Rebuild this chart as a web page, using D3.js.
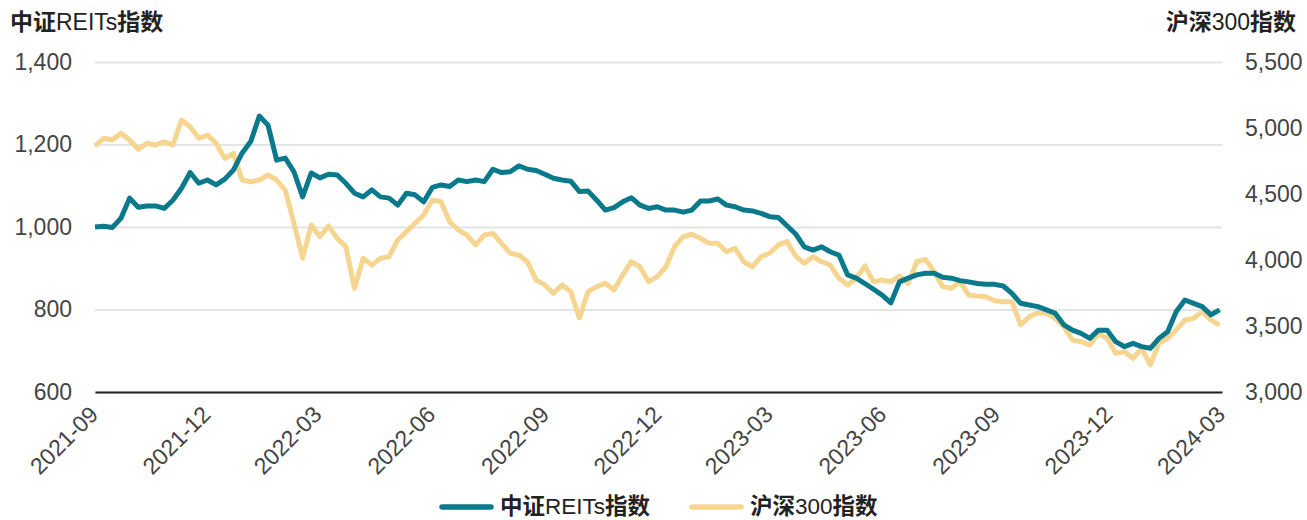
<!DOCTYPE html>
<html lang="zh">
<head>
<meta charset="UTF-8">
<title>中证REITs指数 与 沪深300指数</title>
<script src="https://d3js.org/d3.v7.min.js"></script>
<style>
  body { margin: 0; background: #fff; }
  text { font-family: "Liberation Sans", Arial, "Noto Sans CJK SC", sans-serif; }
</style>
</head>
<body>
<script>

// weekly readings, first one at 2021-09-01
var reitsValues = [1000, 1002, 999, 1021, 1070, 1048, 1051, 1051, 1045, 1065,
    1094, 1132, 1106, 1114, 1102, 1116, 1138, 1179, 1207, 1269,
    1247, 1162, 1167, 1134, 1073, 1131, 1119, 1128, 1126, 1106,
    1082, 1073, 1090, 1073, 1070, 1053, 1082, 1078, 1061, 1096,
    1102, 1098, 1114, 1110, 1114, 1110, 1140, 1132, 1134, 1148,
    1140, 1137, 1128, 1118, 1114, 1111, 1086, 1087, 1065, 1041,
    1047, 1061, 1071, 1053, 1045, 1049, 1041, 1041, 1036, 1041,
    1063, 1063, 1068, 1053, 1049, 1041, 1039, 1033, 1025, 1023,
    1003, 983, 952, 944, 952, 940, 932, 884, 876, 863,
    849, 835, 816, 867, 876, 884, 888, 888, 878, 876,
    870, 867, 863, 861, 861, 857, 839, 815, 811, 807,
    799, 791, 763, 750, 742, 730, 750, 750, 722, 710,
    718, 710, 706, 730, 746, 795, 823, 815, 807, 787,
    799];

var csiValues = [4864, 4922, 4909, 4960, 4909, 4839, 4884, 4871, 4896, 4871,
    5061, 5010, 4922, 4947, 4884, 4770, 4808, 4606, 4593, 4606,
    4644, 4606, 4530, 4278, 4015, 4265, 4177, 4258, 4164, 4101,
    3785, 4013, 3962, 4013, 4025, 4152, 4215, 4278, 4341, 4455,
    4442, 4290, 4227, 4189, 4114, 4189, 4202, 4126, 4051, 4038,
    3985, 3848, 3811, 3748, 3811, 3760, 3561, 3760, 3798, 3823,
    3773, 3886, 3987, 3949, 3836, 3874, 3949, 4101, 4177, 4195,
    4164, 4126, 4126, 4063, 4088, 3987, 3949, 4025, 4051, 4114,
    4139, 4030, 3975, 4025, 3987, 3962, 3861, 3811, 3861, 3955,
    3836, 3848, 3836, 3879, 3823, 3987, 4005, 3912, 3798, 3786,
    3836, 3735, 3727, 3722, 3692, 3684, 3684, 3508, 3570, 3601,
    3596, 3558, 3495, 3394, 3381, 3356, 3445, 3407, 3293, 3306,
    3255, 3331, 3205, 3369, 3407, 3470, 3545, 3558, 3608, 3545,
    3508];

var tickLabels = ['2021-09', '2021-12', '2022-03', '2022-06', '2022-09', '2022-12',
    '2023-03', '2023-06', '2023-09', '2023-12', '2024-03'];
var leftTicks = [600, 800, 1000, 1200, 1400];
var rightTicks = [3000, 3500, 4000, 4500, 5000, 5500];
var seriesNames = ['中证REITs指数', '沪深300指数'];

var weeks = d3.timeDay.range(new Date(2021, 8, 1), new Date(2024, 2, 1), 7);

var w = 1307, h = 520;
var mLeft = 95, mRight = 1222, mTop = 62, mBottom = 392;
var teal = '#0a798b', sand = '#f6d591';

var svg = d3.select('body').append('svg')
    .attr('width', w)
    .attr('height', h)

var parseMonth = d3.timeParse('%Y-%m');

var x = d3.scaleTime()
    .domain([parseMonth(tickLabels[0]), parseMonth(tickLabels[tickLabels.length - 1])])
    .range([mLeft, mRight])
var yL = d3.scaleLinear().domain([600, 1400]).range([mBottom, mTop])
var yR = d3.scaleLinear().domain([3000, 5500]).range([mBottom, mTop])

// mixed text: CJK runs bold, latin runs regular
function rich(sel, str) {
    var runs = str.match(/[\u4e00-\u9fff]+|[^\u4e00-\u9fff]+/g);
    runs.forEach(function (r) {
        var cjk = /[\u4e00-\u9fff]/.test(r);
        sel.append('tspan')
            .attr('font-family', cjk ? '"Noto Sans CJK SC", sans-serif' : '"Liberation Sans", Arial, sans-serif')
            .attr('font-weight', cjk ? 700 : 400)
            .text(r);
    });
}

// left axis + gridlines
var gL = svg.append('g')
    .attr('transform', 'translate(' + mLeft + ',0)')
    .call(d3.axisLeft(yL).tickValues(leftTicks).tickFormat(d3.format(','))
        .tickSizeInner(-(mRight - mLeft)).tickSizeOuter(0).tickPadding(23))
gL.select('.domain').remove()
gL.selectAll('line').attr('stroke', '#e4e4e4').attr('stroke-width', 2)
gL.selectAll('text').attr('font-size', 23).attr('fill', '#444')

var gR = svg.append('g')
    .attr('transform', 'translate(' + mRight + ',0)')
    .call(d3.axisRight(yR).tickValues(rightTicks).tickFormat(d3.format(','))
        .tickSize(0).tickPadding(23))
gR.select('.domain').remove()
gR.selectAll('text').attr('font-size', 23).attr('fill', '#444')

// bottom axis
var gX = svg.append('g')
    .attr('transform', 'translate(0,' + mBottom + ')')
    .call(d3.axisBottom(x).tickValues(tickLabels.map(parseMonth))
        .tickFormat(d3.timeFormat('%Y-%m')).tickSize(0))
gX.select('.domain').attr('stroke', '#222').attr('stroke-width', 2)
gX.selectAll('text')
    .attr('font-size', 23)
    .attr('fill', '#444')
    .attr('text-anchor', 'end')
    .attr('dy', null)
    .attr('y', null)
    .attr('transform', 'translate(4,24) rotate(-45)')

// lines
var lineL = d3.line().x(function (d, i) { return x(weeks[i]); }).y(function (d) { return yL(d); })
var lineR = d3.line().x(function (d, i) { return x(weeks[i]); }).y(function (d) { return yR(d); })

svg.append('path')
    .datum(csiValues)
    .attr('d', lineR)
    .attr('fill', 'none')
    .attr('stroke', sand)
    .attr('stroke-width', 5)
    .attr('stroke-linejoin', 'round')

svg.append('path')
    .datum(reitsValues)
    .attr('d', lineL)
    .attr('fill', 'none')
    .attr('stroke', teal)
    .attr('stroke-width', 5)
    .attr('stroke-linejoin', 'round')

// axis titles
svg.append('text').attr('x', 10).attr('y', 30).attr('font-size', 23).attr('fill', '#222')
    .call(rich, seriesNames[0])
svg.append('text').attr('x', 1296).attr('y', 30).attr('font-size', 23).attr('fill', '#222')
    .attr('text-anchor', 'end')
    .call(rich, seriesNames[1])

// legend
var legend = svg.selectAll('.legend')
    .data([{ name: seriesNames[0], color: teal, x: 440 }, { name: seriesNames[1], color: sand, x: 690 }])
    .enter().append('g')
    .attr('class', 'legend')
    .attr('transform', function (d) { return 'translate(' + d.x + ',507)'; })
legend.append('line')
    .attr('x1', 2).attr('x2', 51)
    .attr('stroke', function (d) { return d.color; })
    .attr('stroke-width', 5.5)
    .attr('stroke-linecap', 'round')
legend.append('text')
    .attr('x', 60).attr('y', 7)
    .attr('font-size', 22.5).attr('fill', '#222')
    .each(function (d) { rich(d3.select(this), d.name); })

</script>
</body>
</html>
